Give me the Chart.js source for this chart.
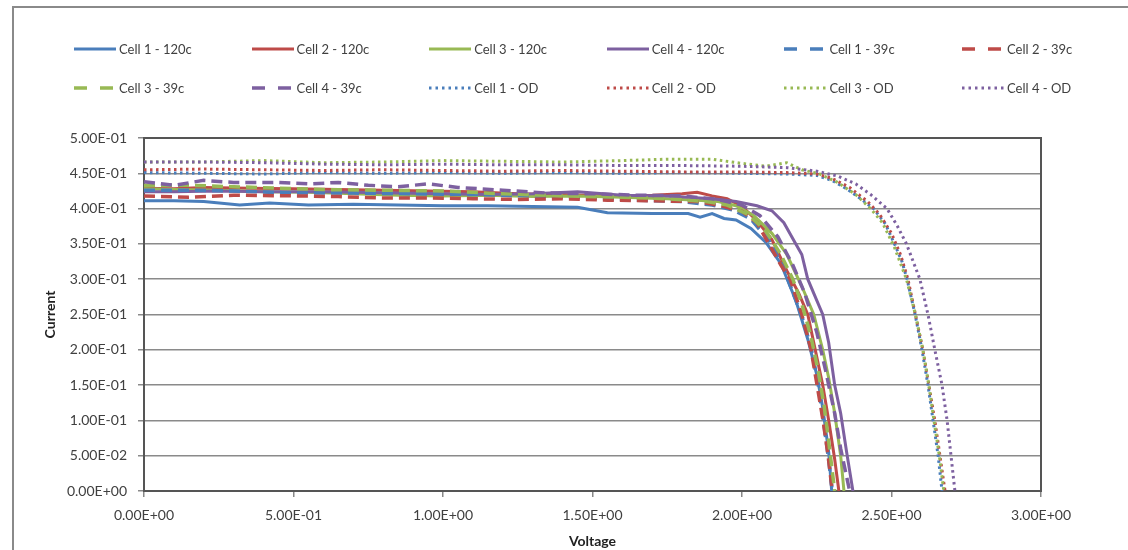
<!DOCTYPE html>
<html lang="en">
<head>
  <meta charset="UTF-8">
  <title>Cell IV curves</title>
  <script src="https://cdn.jsdelivr.net/npm/chart.js"></script>
  <style>
    body { margin: 0; width: 1128px; height: 550px; overflow: hidden; background: #fff; font-family: Lato, "Open Sans", sans-serif; }
    #frame { position: absolute; left: 12px; top: 6px; width: 1300px; height: 700px; border: 2px solid #8a8a8a; }
    #wrap { position: absolute; left: 0; top: 0; width: 1128px; height: 550px; }
    #legend { position: absolute; left: 0; top: 0; width: 1128px; height: 120px; }
    .item { position: absolute; display: flex; align-items: center; font-size: 13px; color: #404040; white-space: nowrap; }
    .item svg { margin-right: 3px; }
  </style>
</head>
<body>
<div id="frame"></div>
<div id="wrap"><canvas id="ivChart"></canvas></div>
<div id="legend"></div>

<script>
// series names and colours (Excel 2007 palette)
const names = ['Cell 1 - 120c', 'Cell 2 - 120c', 'Cell 3 - 120c', 'Cell 4 - 120c',
               'Cell 1 - 39c', 'Cell 2 - 39c', 'Cell 3 - 39c', 'Cell 4 - 39c',
               'Cell 1 - OD', 'Cell 2 - OD', 'Cell 3 - OD', 'Cell 4 - OD'];
const colors = ['#4a7ebb', '#be4b48', '#98b954', '#7d60a0'];

// voltage / current readings per cell
const v_c1_120 = [0, 0.1, 0.2, 0.32, 0.42, 0.55, 0.7, 0.85, 1.0, 1.15, 1.3, 1.45, 1.55, 1.7, 1.82, 1.86, 1.9, 1.94, 1.98, 2.03, 2.08, 2.13, 2.18, 2.22, 2.25, 2.27, 2.29, 2.30];
const i_c1_120 = [0.411, 0.411, 0.410, 0.405, 0.408, 0.405, 0.406, 0.405, 0.404, 0.404, 0.403, 0.402, 0.394, 0.393, 0.393, 0.388, 0.393, 0.386, 0.384, 0.372, 0.352, 0.322, 0.270, 0.215, 0.165, 0.118, 0.055, 0.0];

const v_c2_120 = [0, 0.1, 0.2, 0.35, 0.5, 0.65, 0.8, 0.95, 1.1, 1.25, 1.4, 1.55, 1.7, 1.8, 1.85, 1.9, 1.95, 2.0, 2.05, 2.1, 2.15, 2.19, 2.22, 2.25, 2.27, 2.29, 2.31, 2.324];
const i_c2_120 = [0.429, 0.428, 0.430, 0.429, 0.428, 0.427, 0.426, 0.425, 0.424, 0.421, 0.420, 0.418, 0.419, 0.421, 0.423, 0.418, 0.414, 0.403, 0.383, 0.356, 0.312, 0.280, 0.250, 0.190, 0.150, 0.100, 0.045, 0.0];

const v_c3_120 = [0, 0.1, 0.25, 0.4, 0.55, 0.7, 0.85, 1.0, 1.15, 1.3, 1.45, 1.6, 1.75, 1.85, 1.92, 1.98, 2.04, 2.1, 2.15, 2.2, 2.24, 2.27, 2.29, 2.31, 2.33, 2.341];
const i_c3_120 = [0.428, 0.427, 0.426, 0.424, 0.423, 0.421, 0.419, 0.418, 0.419, 0.417, 0.418, 0.416, 0.414, 0.412, 0.410, 0.404, 0.390, 0.365, 0.335, 0.290, 0.250, 0.200, 0.160, 0.110, 0.050, 0.0];

const v_c4_120 = [0, 0.1, 0.25, 0.4, 0.55, 0.7, 0.85, 1.0, 1.15, 1.3, 1.45, 1.6, 1.75, 1.9, 1.98, 2.05, 2.1, 2.14, 2.18, 2.2, 2.22, 2.25, 2.27, 2.29, 2.31, 2.33, 2.35, 2.371];
const i_c4_120 = [0.424, 0.424, 0.425, 0.424, 0.424, 0.423, 0.422, 0.421, 0.420, 0.421, 0.424, 0.419, 0.418, 0.414, 0.410, 0.404, 0.397, 0.380, 0.350, 0.335, 0.300, 0.270, 0.250, 0.210, 0.150, 0.110, 0.055, 0.0];

const v_c1_39 = [0, 0.15, 0.3, 0.5, 0.7, 0.9, 1.1, 1.3, 1.5, 1.65, 1.8, 1.9, 1.97, 2.03, 2.09, 2.14, 2.18, 2.21, 2.235, 2.255, 2.272, 2.288, 2.302];
const i_c1_39 = [0.426, 0.426, 0.425, 0.422, 0.422, 0.421, 0.420, 0.418, 0.415, 0.412, 0.410, 0.405, 0.398, 0.385, 0.355, 0.315, 0.270, 0.235, 0.195, 0.150, 0.100, 0.050, 0.0];

const v_c2_39 = [0, 0.15, 0.3, 0.5, 0.65, 0.8, 0.95, 1.1, 1.25, 1.4, 1.55, 1.7, 1.85, 1.93, 2.0, 2.05, 2.09, 2.13, 2.161, 2.2, 2.231, 2.251, 2.271, 2.288, 2.302];
const i_c2_39 = [0.418, 0.416, 0.419, 0.418, 0.417, 0.415, 0.415, 0.414, 0.413, 0.414, 0.412, 0.411, 0.410, 0.404, 0.396, 0.380, 0.350, 0.320, 0.300, 0.250, 0.200, 0.150, 0.100, 0.050, 0.0];

const v_c3_39 = [0, 0.15, 0.3, 0.45, 0.6, 0.8, 1.0, 1.2, 1.4, 1.6, 1.75, 1.88, 1.95, 2.02, 2.08, 2.13, 2.17, 2.2, 2.23, 2.255, 2.275, 2.29, 2.31];
const i_c3_39 = [0.433, 0.433, 0.431, 0.429, 0.427, 0.426, 0.425, 0.421, 0.418, 0.416, 0.414, 0.410, 0.405, 0.392, 0.368, 0.335, 0.300, 0.265, 0.220, 0.170, 0.120, 0.070, 0.0];

const v_c4_39 = [0, 0.1, 0.2, 0.3, 0.45, 0.55, 0.65, 0.75, 0.85, 0.95, 1.05, 1.2, 1.35, 1.5, 1.65, 1.8, 1.92, 2.0, 2.06, 2.12, 2.17, 2.21, 2.25, 2.28, 2.31, 2.33, 2.36];
const i_c4_39 = [0.438, 0.433, 0.440, 0.437, 0.437, 0.435, 0.437, 0.433, 0.431, 0.435, 0.430, 0.426, 0.422, 0.421, 0.419, 0.418, 0.413, 0.405, 0.390, 0.360, 0.320, 0.280, 0.225, 0.170, 0.110, 0.060, 0.0];

const v_c1_od = [0, 0.2, 0.4, 0.6, 0.8, 1.0, 1.2, 1.4, 1.6, 1.8, 2.0, 2.15, 2.25, 2.3, 2.35, 2.4, 2.44, 2.48, 2.51, 2.535, 2.552, 2.579, 2.602, 2.622, 2.639, 2.656, 2.669];
const i_c1_od = [0.451, 0.450, 0.449, 0.451, 0.450, 0.451, 0.450, 0.451, 0.450, 0.451, 0.450, 0.449, 0.447, 0.440, 0.428, 0.413, 0.400, 0.378, 0.350, 0.325, 0.300, 0.250, 0.200, 0.150, 0.100, 0.050, 0.0];

const v_c2_od = [0, 0.2, 0.4, 0.6, 0.8, 1.0, 1.2, 1.4, 1.6, 1.8, 2.0, 2.15, 2.25, 2.3, 2.36, 2.42, 2.46, 2.5, 2.53, 2.555, 2.58, 2.605, 2.625, 2.645, 2.662, 2.679];
const i_c2_od = [0.455, 0.456, 0.455, 0.454, 0.455, 0.454, 0.453, 0.454, 0.453, 0.452, 0.452, 0.451, 0.449, 0.443, 0.430, 0.410, 0.392, 0.365, 0.335, 0.300, 0.250, 0.200, 0.150, 0.100, 0.050, 0.0];

const v_c3_od = [0, 0.2, 0.4, 0.6, 0.8, 1.0, 1.2, 1.4, 1.6, 1.75, 1.9, 2.0, 2.08, 2.15, 2.2, 2.26, 2.32, 2.38, 2.43, 2.47, 2.51, 2.55, 2.58, 2.605, 2.625, 2.642, 2.66, 2.675];
const i_c3_od = [0.466, 0.466, 0.468, 0.465, 0.466, 0.468, 0.467, 0.466, 0.468, 0.470, 0.470, 0.464, 0.460, 0.465, 0.455, 0.449, 0.437, 0.420, 0.400, 0.380, 0.345, 0.300, 0.250, 0.200, 0.150, 0.100, 0.050, 0.0];

const v_c4_od = [0, 0.2, 0.4, 0.6, 0.8, 1.0, 1.2, 1.4, 1.6, 1.8, 2.0, 2.15, 2.25, 2.32, 2.38, 2.43, 2.485, 2.52, 2.55, 2.595, 2.622, 2.645, 2.669, 2.686, 2.699, 2.712];
const i_c4_od = [0.466, 0.466, 0.465, 0.463, 0.462, 0.463, 0.462, 0.462, 0.461, 0.461, 0.460, 0.458, 0.453, 0.446, 0.435, 0.420, 0.400, 0.375, 0.350, 0.300, 0.250, 0.200, 0.150, 0.100, 0.050, 0.0];

const volts = [v_c1_120, v_c2_120, v_c3_120, v_c4_120, v_c1_39, v_c2_39, v_c3_39, v_c4_39, v_c1_od, v_c2_od, v_c3_od, v_c4_od];
const amps  = [i_c1_120, i_c2_120, i_c3_120, i_c4_120, i_c1_39, i_c2_39, i_c3_39, i_c4_39, i_c1_od, i_c2_od, i_c3_od, i_c4_od];

// line style per group: 120c solid, 39c dashed, OD dotted
const dashes = [[], [11, 6], [2.5, 3.5]];
const legendDashes = ['', '13,13', '2.5,4'];
const widths = [3, 3.5, 3];

function sci(v) {
  const parts = Number(v).toExponential(2).split('e');
  const n = parseInt(parts[1], 10);
  return parts[0] + 'E' + (n < 0 ? '-' : '+') + String(Math.abs(n)).padStart(2, '0');
}

const datasets = names.map((name, k) => ({
  label: name,
  data: volts[k].map((v, j) => ({ x: v, y: amps[k][j] })),
  borderColor: colors[k % 4],
  borderDash: dashes[Math.floor(k / 4)],
  borderWidth: widths[Math.floor(k / 4)],
  pointRadius: 0,
  tension: 0,
  fill: false,
  order: 11 - k
}));

// plot frame on all four sides, under the data
const plotBox = {
  id: 'plotBox',
  beforeDatasetsDraw(chart) {
    const a = chart.chartArea, ctx = chart.ctx;
    ctx.save();
    ctx.strokeStyle = '#555';
    ctx.lineWidth = 2;
    ctx.strokeRect(a.left, a.top, a.right - a.left, a.bottom - a.top);
    ctx.restore();
  }
};

const tickFont = { family: 'Lato, "Open Sans", sans-serif', size: 14 };
const titleFont = { family: 'Lato, "Open Sans", sans-serif', size: 14, weight: 'bold' };

new Chart(document.getElementById('ivChart'), {
  type: 'line',
  data: { datasets },
  plugins: [plotBox],
  options: {
    responsive: true,
    maintainAspectRatio: false,
    animation: false,
    layout: { padding: { top: 138, right: 87, left: 42, bottom: 0 } },
    plugins: { legend: { display: false }, tooltip: { enabled: false } },
    scales: {
      x: {
        type: 'linear', min: 0, max: 3,
        ticks: { stepSize: 0.5, callback: sci, font: tickFont, color: '#404040', padding: 10, maxRotation: 0 },
        grid: { drawOnChartArea: false, drawTicks: true, tickLength: 6, color: '#888', lineWidth: 1.5 },
        border: { color: '#555', width: 2 },
        title: { display: true, text: 'Voltage', font: titleFont, color: '#222', padding: { top: 2, bottom: 0 } },
        afterFit(s) { s.height = 59; }
      },
      y: {
        min: 0, max: 0.5,
        ticks: { stepSize: 0.05, callback: sci, font: tickFont, color: '#404040', padding: 11 },
        grid: { color: '#8a8a8a', lineWidth: 1.5, tickLength: 6 },
        border: { color: '#555', width: 2 },
        title: { display: true, text: 'Current', font: titleFont, color: '#222', padding: { top: 0, bottom: 0 } },
        afterFit(s) { s.width = 102; }
      }
    }
  }
});

// legend laid out as a 6-column grid like the spreadsheet original
const legend = document.getElementById('legend');
names.forEach((name, k) => {
  const col = k % 6, row = Math.floor(k / 6), g = Math.floor(k / 4);
  const item = document.createElement('div');
  item.className = 'item';
  item.style.left = (74 + col * 177.6) + 'px';
  item.style.top = (row === 0 ? 41 : 80) + 'px';
  const svg = '<svg width="42" height="16"><line x1="0" y1="8" x2="42" y2="8" stroke="' + colors[k % 4] +
    '" stroke-width="' + widths[g] + '"' +
    (legendDashes[g] ? ' stroke-dasharray="' + legendDashes[g] + '"' : '') + '/></svg>';
  item.innerHTML = svg + '<span>' + name + '</span>';
  legend.appendChild(item);
});
</script>
</body>
</html>
